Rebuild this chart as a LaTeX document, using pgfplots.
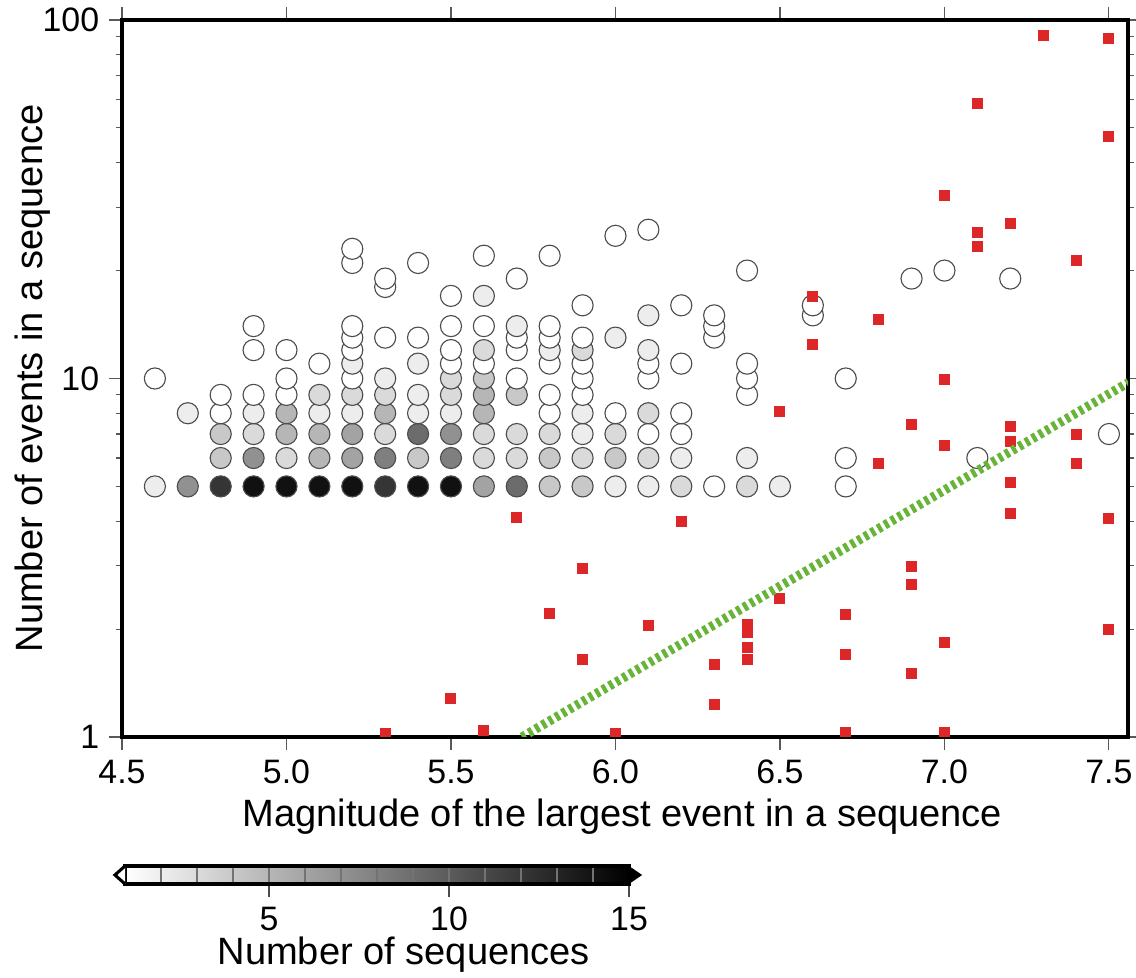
\documentclass[border=0pt]{standalone}
\usepackage{fontspec}
\setmainfont{Liberation Sans}
\usepackage{pgfplots}
\usepackage{pgfplotstable}
\pgfplotsset{compat=1.18}
\definecolor{sqred}{RGB}{220,38,40}
\definecolor{lgreen}{RGB}{104,180,56}

\pgfplotstableread{
m n c
4.6 5 2
4.6 10 1
4.7 5 7
4.7 8 2
4.8 5 12
4.8 6 4
4.8 7 4
4.8 8 1
4.8 9 1
4.9 5 14
4.9 6 7
4.9 7 3
4.9 8 2
4.9 9 1
4.9 12 1
4.9 14 1
5.0 5 14
5.0 6 3
5.0 7 5
5.0 8 5
5.0 9 1
5.0 10 1
5.0 12 1
5.1 5 14
5.1 6 5
5.1 7 5
5.1 8 2
5.1 9 3
5.1 11 1
5.2 5 14
5.2 6 6
5.2 7 6
5.2 8 2
5.2 9 3
5.2 10 1
5.2 11 2
5.2 12 1
5.2 13 1
5.2 14 1
5.2 21 1
5.2 23 1
5.3 5 12
5.3 6 8
5.3 7 3
5.3 8 5
5.3 9 3
5.3 10 2
5.3 13 1
5.3 18 1
5.3 19 1
5.4 5 14
5.4 6 4
5.4 7 9
5.4 8 2
5.4 9 2
5.4 11 2
5.4 13 1
5.4 21 1
5.5 5 14
5.5 6 8
5.5 7 7
5.5 8 2
5.5 9 3
5.5 10 3
5.5 11 1
5.5 12 1
5.5 14 1
5.5 17 1
5.6 5 6
5.6 6 3
5.6 7 3
5.6 8 5
5.6 9 5
5.6 10 4
5.6 11 1
5.6 12 3
5.6 14 1
5.6 17 2
5.6 22 1
5.7 5 9
5.7 6 3
5.7 7 3
5.7 9 4
5.7 10 1
5.7 12 1
5.7 13 1
5.7 14 2
5.7 19 1
5.8 5 4
5.8 6 4
5.8 7 3
5.8 8 1
5.8 9 1
5.8 11 1
5.8 12 2
5.8 13 1
5.8 14 1
5.8 22 1
5.9 5 4
5.9 6 3
5.9 7 2
5.9 8 2
5.9 9 1
5.9 10 1
5.9 11 1
5.9 12 3
5.9 13 1
5.9 16 1
6.0 5 2
6.0 6 4
6.0 7 3
6.0 8 1
6.0 13 2
6.0 25 1
6.1 5 2
6.1 6 3
6.1 7 1
6.1 8 3
6.1 10 1
6.1 11 1
6.1 12 2
6.1 15 2
6.1 26 1
6.2 5 3
6.2 6 2
6.2 7 1
6.2 8 1
6.2 11 1
6.2 16 1
6.3 5 1
6.3 13 1
6.3 14 1
6.3 15 1
6.4 5 3
6.4 6 2
6.4 9 1
6.4 10 1
6.4 11 1
6.4 20 1
6.5 5 2
6.6 15 1
6.6 16 1
6.7 5 1
6.7 6 1
6.7 10 1
6.9 19 1
7.0 20 1
7.1 6 1
7.2 19 1
7.5 7 1
}\circles

\pgfplotstableread{
m n
5.3 1.02
5.5 1.28
5.6 1.04
5.7 4.09
5.8 2.21
5.9 2.95
5.9 1.65
6.0 1.02
6.1 2.04
6.2 4.0
6.3 1.59
6.3 1.23
6.4 2.06
6.4 1.96
6.4 1.78
6.4 1.64
6.5 2.44
6.5 8.07
6.6 16.9
6.6 12.4
6.7 2.2
6.7 1.70
6.7 1.03
6.8 14.6
6.8 5.81
6.9 7.44
6.9 2.98
6.9 2.67
6.9 1.50
7.0 32.4
7.0 9.94
7.0 6.51
7.0 1.83
7.0 1.03
7.1 58.3
7.1 25.6
7.1 23.3
7.2 27.0
7.2 7.33
7.2 6.68
7.2 5.14
7.2 4.2
7.3 90.8
7.4 21.4
7.4 6.98
7.4 5.79
7.5 88.9
7.5 47.3
7.5 4.07
7.5 1.99
}\squares

\begin{document}
\begin{tikzpicture}
\pgfplotsset{
  every tick label/.append style={font=\fontsize{12.2}{14}\selectfont},
  every axis label/.append style={font=\fontsize{13.7}{16}\selectfont},
}
\begin{axis}[
  name=main,
  scale only axis, width=362.16pt, height=258.12pt,
  xmin=4.5, xmax=7.558, ymin=1, ymax=100, ymode=log,
  xtick={4.5,5,5.5,6,6.5,7,7.5}, xticklabels={4.5,5.0,5.5,6.0,6.5,7.0,7.5},
  ytick={1,10,100}, yticklabels={1,10,100},
  minor ytick={2,3,4,5,6,7,8,9,20,30,40,50,60,70,80,90},
  tick align=outside,
  major tick length=4.7pt, minor tick length=2.2pt,
  tick style={line width=0.4pt, black!65},
  axis line style={line width=1.4pt},
  xlabel={Magnitude of the largest event in a sequence},
  ylabel={Number of events in a sequence},
  xlabel style={at={(axis description cs:0.4975,-0.1255)}, anchor=base},
  ylabel style={at={(axis description cs:-0.0795,0.5)}, anchor=base},
  clip marker paths=true,
  point meta min=1, point meta max=15,
  colormap={bw}{gray(0cm)=(1); gray(1cm)=(0)},
  colorbar horizontal,
  colorbar style={
    at={(0.003,-0.1799)}, anchor=north west, xshift=0pt, yshift=0pt,
    scale only axis, width=181.44pt, height=6.48pt,
    xtick={5,10,15}, xticklabels={5,10,15},
    minor xtick={2,3,4,6,7,8,9,11,12,13,14},
    xtick pos=left, xticklabel pos=left,
    tick align=outside, major tick length=4.7pt, minor tick length=0pt,
    tick style={line width=0.5pt, black!70},
    xmajorgrids, xminorgrids,
    major grid style={black!55, line width=0.4pt},
    minor grid style={black!55, line width=0.4pt},
    axis on top,
    axis line style={line width=1.1pt},
    xlabel={Number of sequences},
    xlabel style={at={(axis description cs:0.553,-4.5)}, anchor=base},
    extra description/.code={
      \draw[line width=1.1pt, fill=white, line join=miter] (0,0) -- (-0.02,0.5) -- (0,1);
      \fill[black] (1,0) -- (1.026,0.5) -- (1,1) -- cycle;
    },
  },
]
\addplot[scatter, only marks, mark=*, mark size=3.8pt, point meta=explicit,
  scatter/use mapped color={draw=black!70, fill=mapped color},
  mark options={line width=0.4pt}]
  table[x=m, y=n, meta=c] {\circles};
\addplot[only marks, mark=square*, mark size=1.8pt, draw=sqred, fill=sqred,
  mark options={draw=sqred, fill=sqred, line width=0pt}]
  table[x=m, y=n] {\squares};
\addplot[draw=lgreen, line width=3.3pt, dash pattern=on 1.5pt off 1.3pt, no marks]
  coordinates {(5.716,1) (7.56,9.75)};
\end{axis}
\pgfresetboundingbox
\path[use as bounding box] ([shift={(-43.92pt,-86.76pt)}]main.south west) rectangle ([shift={(365.04pt,265.32pt)}]main.south west);
\end{tikzpicture}
\end{document}
